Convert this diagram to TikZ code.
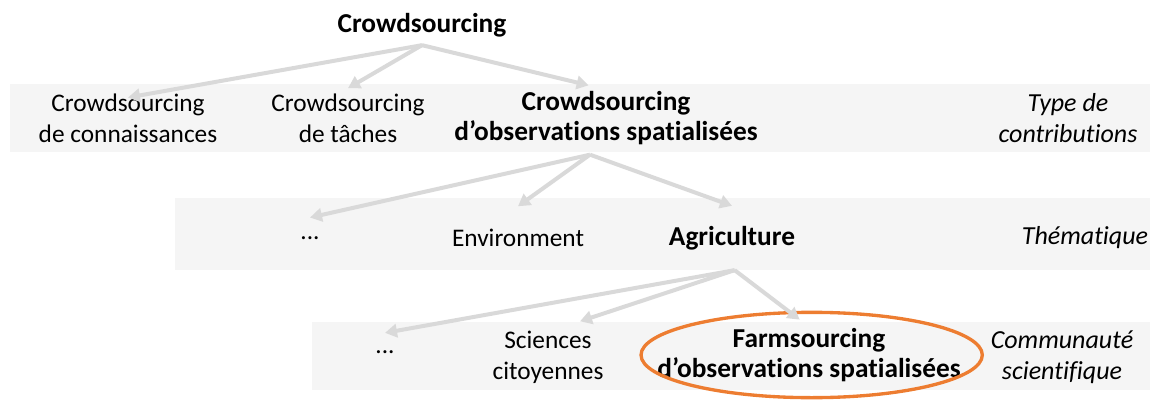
\documentclass[tikz,border=0pt]{standalone}
\usepackage{fontspec}
\setmainfont{Carlito}[Ligatures={NoCommon,NoContextual}]
\usetikzlibrary{arrows.meta}
\definecolor{bandgray}{HTML}{F5F5F5}
\definecolor{arrowgray}{HTML}{D9D9D9}
\definecolor{farmorange}{HTML}{ED7D31}
\tikzset{
  lbl/.style={align=center, inner sep=2pt, font=\fontsize{19}{23}\selectfont},
  lblbold/.style={lbl, font=\fontsize{20.5}{23}\selectfont\bfseries},
  lblcat/.style={lbl, font=\fontsize{19.5}{23}\selectfont\itshape},
  arr/.style={draw=arrowgray, line width=3pt, -{Triangle[length=9pt,width=10pt]}}
}
\begin{document}
\begin{tikzpicture}[x=0.75pt, y=-0.75pt]
    \useasboundingbox (0,0) rectangle (1156,403);
    % Grey bands behind each level
    \fill[bandgray] (10,84) rectangle (1150,152);
    \fill[bandgray] (175,198) rectangle (1150,270);
    \fill[bandgray] (312,322) rectangle (1150,390);

    % Top
    \node[lblbold] (crowd) at (422,25) {Crowdsourcing};

    % Type de contributions
    \node[lbl] (conn) at (128,118) {Crowdsourcing\\de connaissances};
    \node[lbl] (tach) at (348,118) {Crowdsourcing\\de tâches};
    \node[lblbold] (obs) at (606,118) {Crowdsourcing\\d’observations spatialisées};
    \node[lblcat] (type) at (1068,118) {Type de\\contributions};

    % Thematique
    \node[lbl] (etc2) at (310,238) {...};
    \node[lbl] (env) at (518,238) {Environment};
    \node[lblbold] (agri) at (732,238) {Agriculture};
    \node[lblcat] (them) at (1085,238) {Thématique};

    % Communaute scientifique
    \node[lbl] (etc3) at (385,352) {...};
    \node[lbl] (sci) at (548,357) {Sciences\\citoyennes};
    \node[lblbold] (farm) at (809,355) {Farmsourcing\\d’observations spatialisées};
    \node[lblcat] (comm) at (1062,357) {Communauté\\scientifique};
    \draw[farmorange, line width=2.5pt] ([xshift=2pt]farm.center) ellipse [x radius=128pt, y radius=32pt];

    % Arrows
    \coordinate (a1) at ([yshift=-4pt]crowd.south);
    \coordinate (a2) at ([xshift=-12pt,yshift=-5pt]obs.south);
    \coordinate (a3) at ([xshift=2pt,yshift=-13pt]agri.south);
    \draw[arr] (a1) -- ([yshift=-5pt]conn.north);
    \draw[arr] (a1) -- ([yshift=2pt]tach.north);
    \draw[arr] (a1) -- ([xshift=-13pt,yshift=2pt]obs.north);
    \draw[arr] (a2) -- ([yshift=12pt]etc2.north);
    \draw[arr] (a2) -- ([yshift=15pt]env.north);
    \draw[arr] (a2) -- ([yshift=13pt]agri.north);
    \draw[arr] (a3) -- ([yshift=11pt]etc3.north);
    \draw[arr] (a3) -- ([xshift=24pt,yshift=5pt]sci.north);
    \draw[arr] (a3) -- ([xshift=-7pt,yshift=4pt]farm.north);
\end{tikzpicture}
\end{document}
